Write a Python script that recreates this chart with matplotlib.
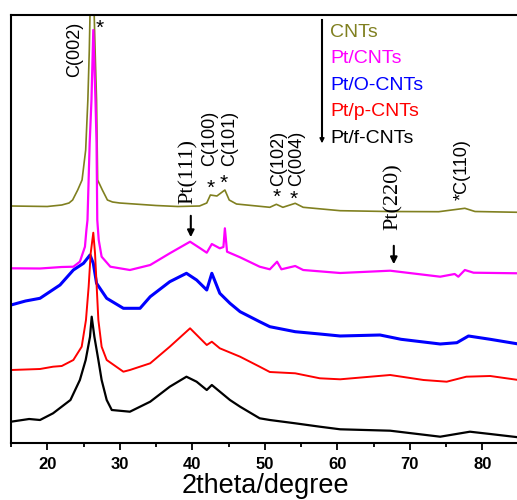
import matplotlib
matplotlib.use("Agg")
import matplotlib.pyplot as plt
from matplotlib.ticker import MultipleLocator

plt.rcParams['font.family'] = ['Liberation Sans', 'DejaVu Sans']

# 2theta (degree) / intensity (a.u.)
cnt_x = [15, 20, 22, 23, 23.5, 24.2, 24.8, 25.3, 25.6, 25.8, 26.15, 26.6, 26.8, 26.95, 27.6, 28.3, 29, 30,
         35, 38, 41, 42.0, 42.5, 43.4, 44.5, 45.1, 46.1, 50.7, 51.6, 52.5, 54.2, 55.3, 60.4, 67, 74, 77.6,
         79, 85]
cnt_y = [237, 236.5, 238, 240, 243, 253, 263, 293, 343, 393, 520, 393, 343, 263, 253, 243, 241, 240,
         237.5, 236.5, 237, 240, 248, 247, 253, 243, 239, 235.7, 238.7, 235.7, 239.7, 235.7, 232.3, 231.5,
         231.3, 234.7, 231.5, 230.7]

ptcnt_x = [15, 19, 22, 23.6, 24.5, 25.2, 25.4, 25.55, 25.85, 26.1, 26.35, 26.65, 26.8, 26.9, 27.1, 27.5,
           28.7, 31.4, 34.2, 36.9, 39.7, 41.1, 42.0, 42.7, 43.8, 44.3, 44.5, 44.8, 46.6, 49.3, 50.7, 51.7,
           52.3, 54.2, 55.3, 60.4, 67.3, 74.2, 76.2, 76.7, 77.6, 78.8, 85]
ptcnt_y = [174.7, 174.5, 176, 176.3, 181.3, 196.3, 213, 223, 300, 343, 413, 343, 300, 223, 203, 186.3,
           176.3, 173, 178, 189.7, 201.3, 194.7, 190.3, 199, 194.7, 196, 214.7, 191.3, 185.7, 176.3, 173.7,
           181.3, 173.7, 177, 173, 170, 172.3, 166.3, 169, 166.3, 173, 170.3, 169.7]

pto_x = [15, 17, 19.0, 21.76, 23.6, 25.0, 25.9, 26.35, 26.8, 28.2, 30.5, 32.8, 34.2, 36.9, 39.2, 40.6,
         42.0, 42.7, 43.8, 45.2, 46.6, 49.3, 50.7, 54.2, 57.6, 60.4, 65.9, 68.8, 74.2, 76.5, 78.1, 81.1, 85]
pto_y = [138, 142, 144.7, 158, 173, 179.7, 188, 179.7, 159.7, 144.7, 134.7, 134.7, 146.3, 161.3, 169.7, 163,
         153, 169.7, 149.7, 139.7, 131.3, 121.3, 116.3, 111.3, 109, 107, 108, 103.7, 99, 100.3, 107, 103.7, 99]

ptp_x = [15, 19, 20.8, 22, 23.6, 24.75, 25.34, 25.71, 25.99, 26.35, 26.59, 26.82, 27.05, 27.5, 28.2, 30.5,
         31.4, 34.2, 36.9, 39.7, 42.0, 42.7, 43.8, 46.6, 49.3, 50.7, 54.2, 57.6, 60.4, 67.3, 71.9, 75.1,
         77.8, 81.1, 85]
ptp_y = [73, 74, 76.3, 77, 83, 96.3, 123, 156.3, 189.7, 210.3, 189.7, 156.3, 123, 96.3, 83, 71.3,
         73, 79.7, 96.3, 114.7, 98, 101.3, 94.7, 86.3, 76.3, 71, 69.7, 64.7, 63.7, 68, 63, 61.3,
         66.3, 67, 63]

ptf_x = [15, 17.5, 19.0, 20.8, 23.2, 24.5, 25.3, 25.9, 26.13, 26.5, 27.05, 27.5, 28.2, 28.9, 31.4, 34.2,
         36.9, 39.2, 40.6, 42.0, 42.7, 45.2, 46.6, 49.3, 50.7, 54.2, 57.6, 60.4, 67.3, 74.2, 78.3, 81.1, 85]
ptf_y = [21.3, 24, 23, 29.7, 43, 63, 83, 106.3, 126.3, 106.3, 83, 63, 43, 33, 31.3, 41.3,
         56.3, 66.3, 61.3, 53, 58, 43, 36.3, 24.7, 23, 19.7, 16.3, 13.7, 12.3, 6.3, 11.3, 9, 5.7]

names = ['CNTs', 'Pt/CNTs', 'Pt/O-CNTs', 'Pt/p-CNTs', 'Pt/f-CNTs']
colors = ['#808020', '#ff00ff', '#0000ff', '#ff0000', 'black']

fig = plt.figure(figsize=(5.17, 5.0), dpi=100)
ax = fig.add_axes([11 / 517, 57 / 500, 507.5 / 517, 428 / 500])

series = [(cnt_x, cnt_y), (ptcnt_x, ptcnt_y), (pto_x, pto_y), (ptp_x, ptp_y), (ptf_x, ptf_y)]
widths = [1.2, 1.6, 2.2, 1.4, 1.6]
for (x, y), c, lw in zip(series, colors, widths):
    ax.plot(x, y, '-', color=c, lw=lw)

ax.set_xlim(15, 85)
ax.set_ylim(0, 428)
ax.xaxis.set_major_locator(MultipleLocator(10))
ax.xaxis.set_minor_locator(MultipleLocator(5))
ax.tick_params(axis='x', which='major', direction='out', length=5, width=1.3, pad=5)
ax.tick_params(axis='x', which='minor', direction='out', length=3, width=1.3)
ax.set_yticks([])
for lab in ax.get_xticklabels():
    lab.set_fontweight('bold')
    lab.set_fontsize(12)
for s in ax.spines.values():
    s.set_linewidth(1.5)
ax.spines['right'].set_visible(False)
fig.text(265 / 517, 7 / 500, '2theta/degree', fontsize=19.5, ha='center', va='baseline')

# peak labels
ax.text(23.8, 394, 'C(002)', rotation=90, fontsize=13, ha='center', va='center')
ax.text(27.3, 415, '*', fontsize=15, ha='center', va='center')
ax.text(39.5, 272, 'Pt(111)', rotation=90, fontsize=16, ha='center', va='center', family='Liberation Serif')
ax.text(42.4, 305, 'C(100)', rotation=90, fontsize=13, ha='center', va='center')
ax.text(45.2, 305, 'C(101)', rotation=90, fontsize=13, ha='center', va='center')
ax.text(42.6, 255, '*', fontsize=15, ha='center', va='center')
ax.text(44.4, 260, '*', fontsize=15, ha='center', va='center')
ax.text(51.9, 285, 'C(102)', rotation=90, fontsize=13, ha='center', va='center')
ax.text(54.4, 285, 'C(004)', rotation=90, fontsize=13, ha='center', va='center')
ax.text(51.65, 246, '*', fontsize=15, ha='center', va='center')
ax.text(54.0, 244, '*', fontsize=15, ha='center', va='center')
ax.text(67.7, 246, 'Pt(220)', rotation=90, fontsize=16, ha='center', va='center', family='Liberation Serif')
ax.text(77.3, 273, '*C(110)', rotation=90, fontsize=13, ha='center', va='center')

arrow = dict(arrowstyle='-|>', color='black', lw=1.5, mutation_scale=10)
ax.annotate('', xy=(39.8, 203), xytext=(39.8, 230), arrowprops=arrow)
ax.annotate('', xy=(67.8, 176), xytext=(67.8, 200), arrowprops=arrow)

# legend as coloured text with an arrow
for i, (n, c) in enumerate(zip(names, colors)):
    fig.text(330 / 517, 1 - (36.7 + 26.5 * i) / 500, n, color=c, fontsize=14, va='baseline', ha='left')
fig.add_artist(plt.Line2D([322 / 517, 322 / 517], [1 - 20 / 500, 1 - 140 / 500], color='black', lw=1.5))
ax.annotate('', xy=(322 / 517, 1 - 146 / 500), xytext=(322 / 517, 1 - 136 / 500), xycoords='figure fraction',
            textcoords='figure fraction', arrowprops=dict(arrowstyle='-|>', color='black', lw=1, mutation_scale=7))

fig.savefig('out.png', dpi=100)
